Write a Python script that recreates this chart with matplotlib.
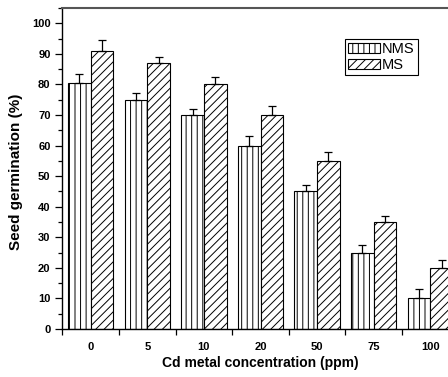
import numpy as np
import matplotlib.pyplot as plt
from matplotlib.ticker import MultipleLocator, FixedLocator

plt.rcParams['font.family'] = ['Liberation Sans', 'DejaVu Sans']
plt.rcParams['hatch.linewidth'] = 0.7

# Germinación de semillas según concentración de Cd
concentraciones = ['0', '5', '10', '20', '50', '75', '100']
nms = [80.5, 75, 70, 60, 45, 25, 10]
nms_err = [3.0, 2.3, 2.0, 3.0, 2.0, 2.6, 3.0]
ms = [91, 87, 80, 70, 55, 35, 20]
ms_err = [3.4, 2.0, 2.4, 3.0, 3.0, 2.0, 2.5]

fig = plt.figure(figsize=(4.48, 3.77), dpi=100)
ax = fig.add_axes([0.1393, 0.1273, 0.8844, 0.8515])

x = np.arange(len(concentraciones))
w = 0.4
ax.bar(x - w / 2, nms, w, color='white', edgecolor='black', linewidth=0.8,
       hatch='|||', label='NMS',
       yerr=[np.zeros(len(nms)), nms_err], capsize=3,
       error_kw=dict(elinewidth=0.9, capthick=0.9, ecolor='black'))
ax.bar(x + w / 2, ms, w, color='white', edgecolor='black', linewidth=0.8,
       hatch='////', label='MS',
       yerr=[np.zeros(len(ms)), ms_err], capsize=3,
       error_kw=dict(elinewidth=0.9, capthick=0.9, ecolor='black'))

ax.set_xlim(-0.5, 6.5)
ax.set_ylim(0, 105)

ax.set_xticks(x)
ax.set_xticklabels(concentraciones, fontsize=8, fontweight='bold')
ax.tick_params(axis='x', which='major', length=0, pad=9)
ax.xaxis.set_minor_locator(FixedLocator(np.arange(-0.5, 7, 1)))
ax.tick_params(axis='x', which='minor', length=4, width=0.9, direction='out')

ax.yaxis.set_major_locator(MultipleLocator(10))
ax.yaxis.set_minor_locator(MultipleLocator(5))
ax.tick_params(axis='y', which='major', length=5, width=0.9, labelsize=8)
ax.tick_params(axis='y', which='minor', length=3, width=0.9)
for lbl in ax.get_yticklabels():
    lbl.set_fontweight('bold')

for s in ['left', 'bottom']:
    ax.spines[s].set_linewidth(1.0)
ax.spines['top'].set_linewidth(1.5)
ax.spines['top'].set_color('#555555')
ax.spines['right'].set_visible(False)

ax.set_xlabel('Cd metal concentration (ppm)', fontsize=10, fontweight='bold', labelpad=3)
ax.set_ylabel('Seed germination (%)', fontsize=11, fontweight='bold')
ax.yaxis.set_label_coords(-0.1, 0.49)

leg = ax.legend(loc='upper left', bbox_to_anchor=(0.713, 0.903), fontsize=10.5,
                frameon=True, fancybox=False, edgecolor='black', framealpha=1,
                handlelength=2.2, handleheight=0.75, handletextpad=0.15,
                borderpad=0.2, labelspacing=0.15, borderaxespad=0)
leg.get_frame().set_linewidth(0.8)

fig.savefig('out.png', dpi=100)
